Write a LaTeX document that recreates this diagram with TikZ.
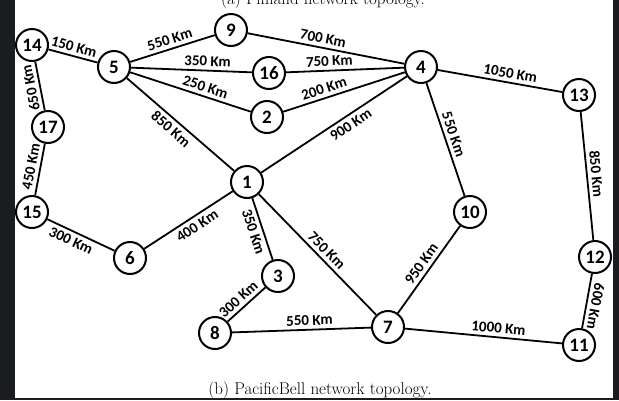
\documentclass[tikz,border=0pt]{standalone}
\usepackage{fontspec}
\newfontfamily\labfont{Carlito}
\definecolor{darkbg}{HTML}{1B1C1F}
\tikzset{
  nd/.style={circle, draw, line width=2pt, minimum size=32pt, inner sep=0pt, fill=white,
    font=\labfont\bfseries\fontsize{19}{19}\selectfont},
  edge/.style={line width=1.8pt},
  lbl/.style={sloped, inner sep=3.5pt, font=\labfont\bfseries\fontsize{15}{15}\selectfont},
  captxt/.style={font=\fontsize{17}{20}\selectfont, inner sep=0pt}
}
\begin{document}
\begin{tikzpicture}[x=1pt,y=-1pt]
\useasboundingbox (0,0) rectangle (619,400);
\fill[darkbg] (0,0) rectangle (619,400);
\fill[white] (15,0) rectangle (613,398);
\begin{scope}
\clip (15,0) rectangle (613,398);
\node[captxt, anchor=base] (capa) at (323,4) {(a) Finland network topology.};
\end{scope}
\node[captxt, anchor=base] (capb) at (320,394) {(b) PacificBell network topology.};

\node[nd] (n14) at (32,45) {14};
\node[nd] (n5) at (114,67) {5};
\node[nd] (n9) at (231,30) {9};
\node[nd] (n16) at (269,73) {16};
\node[nd] (n2) at (267,117) {2};
\node[nd] (n17) at (48,127) {17};
\node[nd] (n1) at (247,182) {1};
\node[nd] (n4) at (421,67) {4};
\node[nd] (n13) at (579,95) {13};
\node[nd] (n10) at (470,212) {10};
\node[nd] (n12) at (595,257) {12};
\node[nd] (n7) at (388,327) {7};
\node[nd] (n11) at (579,345) {11};
\node[nd] (n15) at (32,212) {15};
\node[nd] (n6) at (130,258) {6};
\node[nd] (n3) at (278,276) {3};
\node[nd] (n8) at (215,333) {8};

\draw[edge] (n14) -- node[lbl,above,pos=.47]{150 Km} (n5);
\draw[edge] (n17) -- node[lbl,above,allow upside down,pos=.5]{650 Km} (n14);
\draw[edge] (n15) -- node[lbl,above,pos=.52]{450 Km} (n17);
\draw[edge] (n15) -- node[lbl,below,pos=.41]{300 Km} (n6);
\draw[edge] (n6) -- node[lbl,below,pos=.54]{400 Km} (n1);
\draw[edge] (n5) -- node[lbl,above,pos=.5]{550 Km} (n9);
\draw[edge] (n5) -- node[lbl,above,pos=.63]{350 Km} (n16);
\draw[edge] (n5) -- node[lbl,above,pos=.6]{250 Km} (n2);
\draw[edge] (n5) -- node[lbl,below,pos=.47]{850 Km} (n1);
\draw[edge] (n9) -- node[lbl,above,pos=.47]{700 Km} (n4);
\draw[edge] (n16) -- node[lbl,above,pos=.37]{750 Km} (n4);
\draw[edge] (n2) -- node[lbl,above,pos=.36]{200 Km} (n4);
\draw[edge] (n1) -- node[lbl,below,pos=.58]{900 Km} (n4);
\draw[edge] (n4) -- node[lbl,above,pos=.57]{1050 Km} (n13);
\draw[edge] (n4) -- node[lbl,above,pos=.48]{550 Km} (n10);
\draw[edge] (n13) -- node[lbl,above,pos=.49]{850 Km} (n12);
\draw[edge] (n12) -- node[lbl,above,allow upside down,pos=.57]{600 Km} (n11);
\draw[edge] (n1) -- node[lbl,below,pos=.5]{350 Km} (n3);
\draw[edge] (n1) -- node[lbl,above,pos=.52]{750 Km} (n7);
\draw[edge] (n8) -- node[lbl,above,pos=.45]{300 Km} (n3);
\draw[edge] (n8) -- node[lbl,above,pos=.56]{550 Km} (n7);
\draw[edge] (n7) -- node[lbl,above,pos=.5]{950 Km} (n10);
\draw[edge] (n7) -- node[lbl,above,pos=.59]{1000 Km} (n11);
\end{tikzpicture}
\end{document}
